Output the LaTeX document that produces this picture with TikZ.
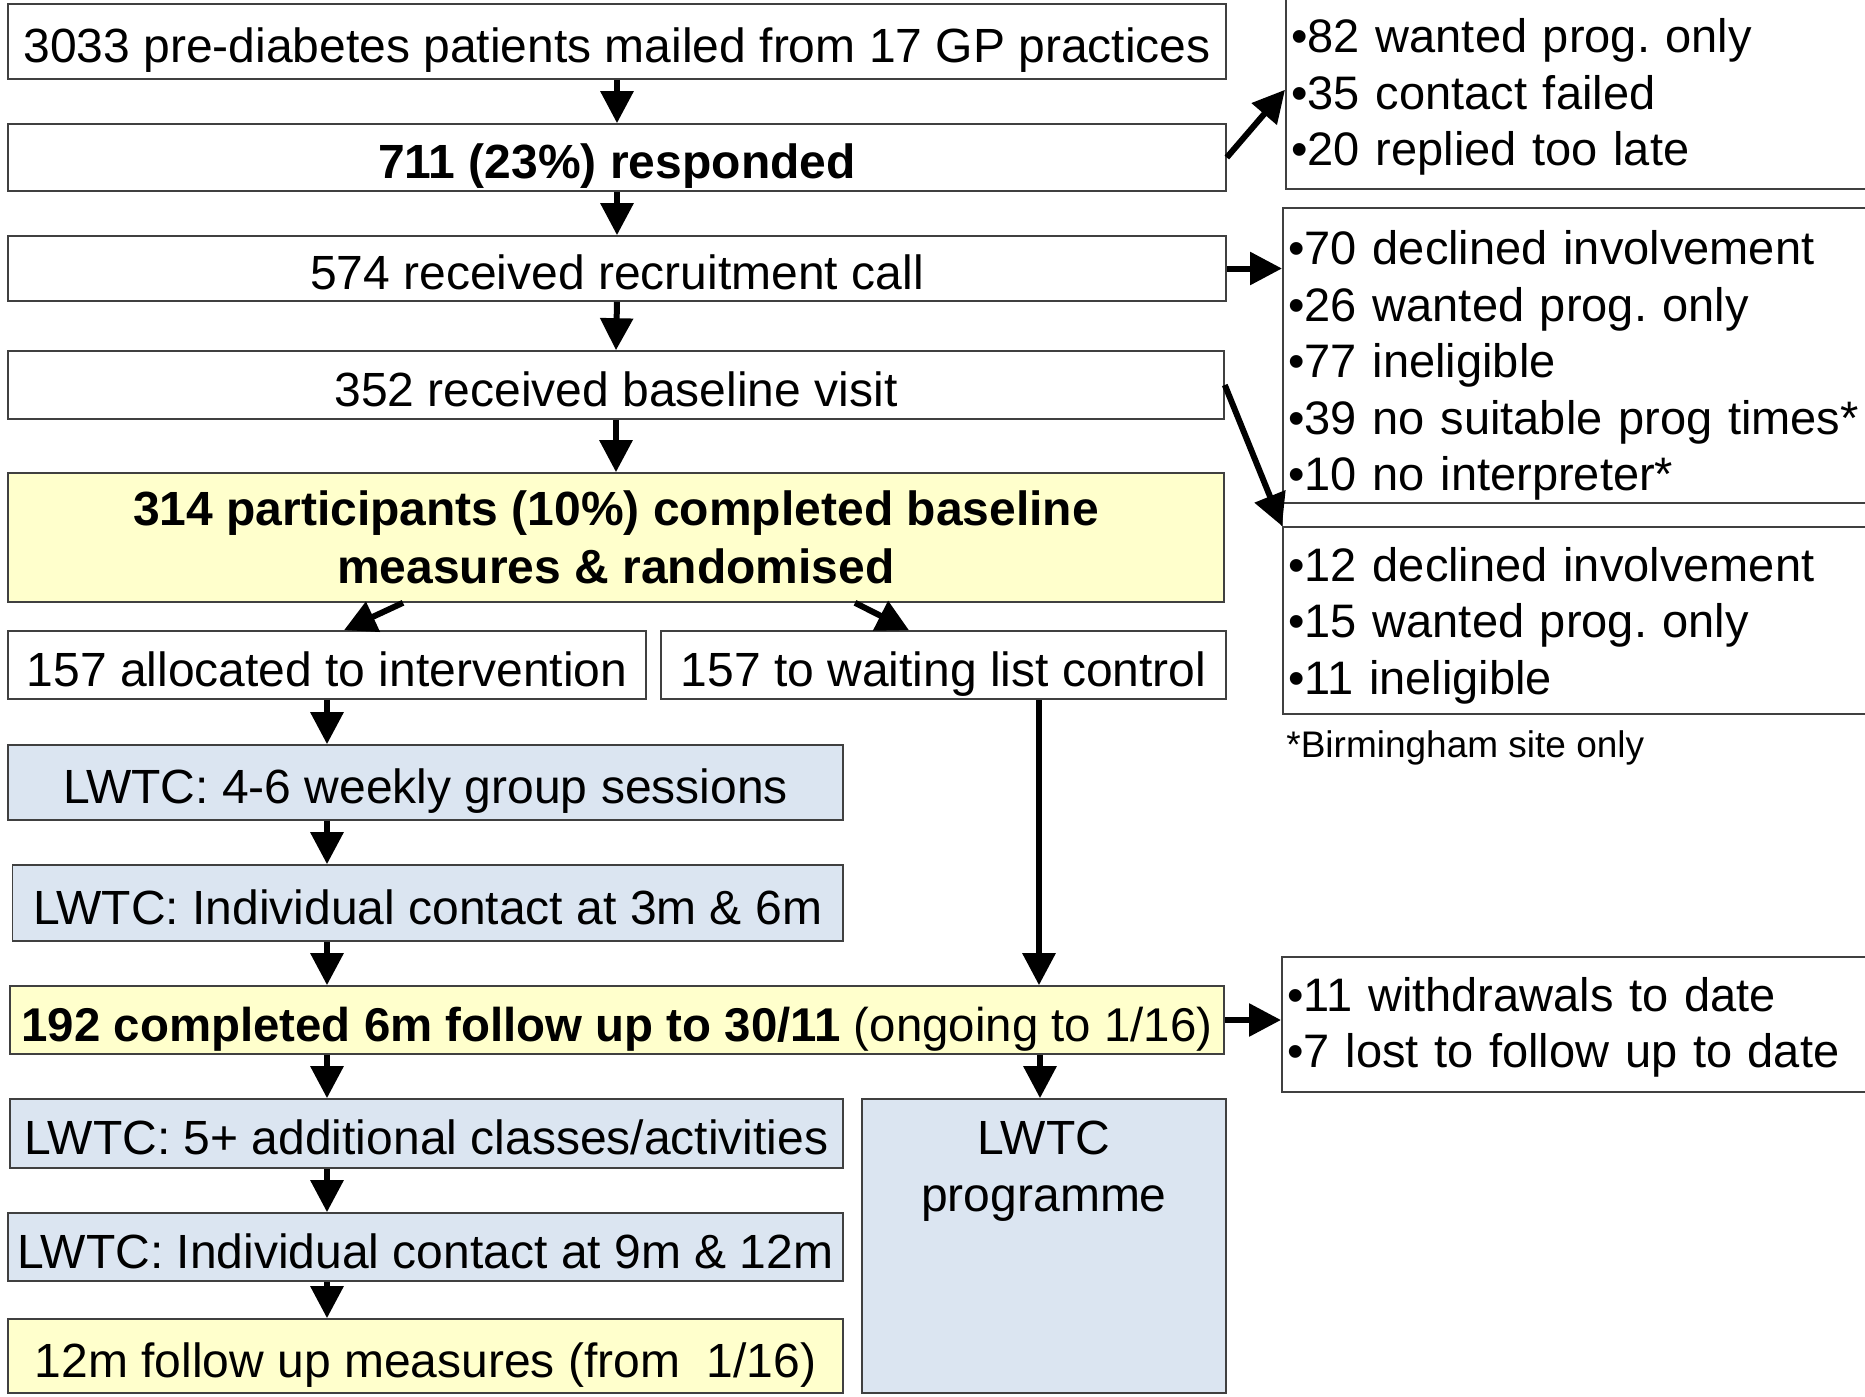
\documentclass[tikz,border=0pt]{standalone}
\usepackage{fontspec}
\setmainfont{Liberation Sans}
\usetikzlibrary{arrows.meta}
\definecolor{paleyellow}{HTML}{FFFFCC}
\definecolor{paleblue}{HTML}{DBE5F1}
\frenchspacing

\begin{document}
\begin{tikzpicture}[x=0.5pt, y=-0.5pt,
    every node/.style={font=\fontsize{24pt}{28.25pt}\selectfont, inner sep=0pt},
    flowbox/.style={draw=black!75, line width=0.8pt, fill=white, align=center, text height=22pt, text depth=0.8pt},
    yellowbox/.style={flowbox, fill=paleyellow},
    bluebox/.style={flowbox, fill=paleblue},
    sidebox/.style={draw=black!75, line width=0.8pt, anchor=north west, minimum width=320pt},
    sidetext/.style={anchor=west, align=left, text width=314pt, font=\fontsize{23.5pt}{28.25pt}\selectfont},
    arr/.style={line width=3pt, -{Triangle[length=16pt,width=16pt]}}]
        \useasboundingbox (0,0) rectangle (1865,1397);
        \clip (0,0) rectangle (1865,1397);
        \node (b1) [flowbox, minimum width=609pt, minimum height=37.5pt] at (617,41.5) {3033 pre-diabetes patients mailed from 17 GP practices};
        \node (b2) [flowbox, minimum width=609pt, minimum height=33.5pt] at (617,157.5) {\textbf{711 (23\%) responded}};
        \node (b3) [flowbox, minimum width=609pt, minimum height=32.5pt] at (617,268.5) {574 received recruitment call};
        \node (b4) [flowbox, minimum width=608pt, minimum height=34pt] at (616,385) {352 received baseline visit};
        \node (b5) [draw=black!75, line width=0.8pt, fill=paleyellow, align=center, minimum width=608pt, minimum height=64.5pt, font=\fontsize{24pt}{29pt}\selectfont\bfseries] at (616,537.5) {314 participants (10\%) completed baseline\\measures \& randomised};
        \node (b6) [flowbox, minimum width=319pt, minimum height=34pt] at (327,665) {157 allocated to intervention};
        \node (b7) [flowbox, minimum width=282.5pt, minimum height=34pt] at (943.5,665) {157 to waiting list control};
        \node (b8) [bluebox, minimum width=417.5pt, minimum height=37.5pt] at (425.5,782.5) {LWTC: 4-6 weekly group sessions};
        \node (b9) [bluebox, minimum width=415.25pt, minimum height=38pt] at (427.75,903) {LWTC: Individual contact at 3m \& 6m};
        \node (b10) [yellowbox, minimum width=607pt, minimum height=34pt, font=\fontsize{23.7pt}{28.25pt}\selectfont] at (617,1020) {\textbf{192 completed 6m follow up to 30/11} (ongoing to 1/16)};
        \node (b11) [bluebox, minimum width=416.5pt, minimum height=34.5pt] at (426.5,1133.5) {LWTC: 5+ additional classes/activities};
        \node (b12) [bluebox, minimum width=417.5pt, minimum height=34pt] at (425.5,1247) {LWTC: Individual contact at 9m \& 12m};
        \node (b13) [yellowbox, minimum width=417.5pt, minimum height=37pt] at (425.5,1356) {12m follow up measures (from~ 1/16)};
        \node (b14) [draw=black!75, line width=0.8pt, fill=paleblue, minimum width=182pt, minimum height=147pt] at (1044,1246) {};
        \node (prog) [align=center, anchor=north, yshift=-11pt, font=\fontsize{24pt}{28.5pt}\selectfont] at (b14.north) {LWTC\\programme};
        \node (r1box) [sidebox, minimum height=99pt] at (1285,-10) {};
        \node (r2box) [sidebox, minimum height=147.5pt] at (1282,207) {};
        \node (r3box) [sidebox, minimum height=93.5pt] at (1282,526) {};
        \node (r4box) [sidebox, minimum height=67.5pt] at (1281,956) {};
        \node (r1) [sidetext] at (1291,97) {•82 wanted prog. only\\•35 contact failed\\•20 replied too late};
        \node (r2) [sidetext] at (1288,365.5) {•70 declined involvement\\•26 wanted prog. only\\•77 ineligible\\•39 no suitable prog times*\\•10 no interpreter*};
        \node (r3) [sidetext] at (1288,625.5) {•12 declined involvement\\•15 wanted prog. only\\•11 ineligible};
        \node (r4) [sidetext] at (1287,1027.5) {•11 withdrawals to date\\•7 lost to follow up to date};
        \node (note) [anchor=west, font=\fontsize{18.5pt}{22pt}\selectfont] at (1286,748) {*Birmingham site only};
        \draw [draw=black!75, line width=0.8pt] (r2box.south west) -- (r3box.north west);
        \draw [arr] (b1.south) -- (b2.north);
        \draw [arr] (b2.south) -- (b3.north);
        \draw [arr] (b3.south) -- (b4.north);
        \draw [arr] (b4.south) -- (b5.north);
        \draw [arr] (b5.south -| 403,0) -- (b6.north -| 344,0);
        \draw [arr] (b5.south -| 855,0) -- (b7.north -| 909,0);
        \draw [arr] (b6.south) -- (b6.south |- b8.north);
        \draw [arr] (b8.south -| b6.south) -- (b9.north -| b6.south);
        \draw [arr] (b9.south -| b6.south) -- (b10.north -| b6.south);
        \draw [arr] (b10.south -| b6.south) -- (b11.north -| b6.south);
        \draw [arr] (b11.south -| b6.south) -- (b12.north -| b6.south);
        \draw [arr] (b12.south -| b6.south) -- (b13.north -| b6.south);
        \draw [arr] (b7.south -| 1039,0) -- (b10.north -| 1039,0);
        \draw [arr] (b10.south -| 1040,0) -- (b14.north -| 1040,0);
        \draw [arr] (b2.east) -- (r1box.west);
        \draw [arr] (b3.east) -- (b3.east -| r2box.west);
        \draw [arr] (b4.east) -- (r3box.north west);
        \draw [arr] (b10.east) -- (b10.east -| r4box.west);
\end{tikzpicture}
\end{document}
